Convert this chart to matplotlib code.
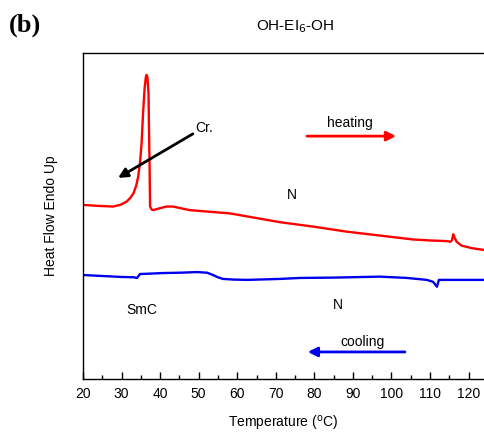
import matplotlib
matplotlib.use("Agg")
import matplotlib.pyplot as plt
import numpy as np

plt.rcParams['font.family'] = ['Liberation Sans', 'DejaVu Sans']

# Heating curve (red)
heat_T = [20.0, 24.0, 27.8, 29.6, 30.5, 31.3, 32.3, 33.1, 33.8, 34.3, 34.8, 35.2, 35.6,
          36.0, 36.3, 36.5, 36.7, 37.0, 37.1, 37.25, 37.4, 37.8, 38.2, 40.0, 41.7,
          43.3, 47.7, 58.1, 71.1, 80.0, 88.4, 97.0, 105.6, 110.0, 114.3, 115.3, 115.7,
          116.0, 116.4, 116.9, 118.2, 121.0, 124.0]
heat_Y = [53.4, 53.1, 52.9, 53.4, 53.9, 54.4, 55.6, 57.0, 59.3, 62.0, 66.5, 72.4, 82.0,
          89.5, 92.6, 93.3, 92.6, 87.6, 78.0, 67.0, 52.9, 52.0, 51.8, 52.4, 52.9,
          52.9, 51.8, 50.8, 48.1, 46.7, 45.2, 44.0, 42.8, 42.5, 42.3, 42.1, 42.6,
          44.4, 43.3, 42.1, 40.9, 40.1, 39.6]

# Cooling curve (blue)
cool_T = [20.0, 25.0, 30.0, 33.2, 34.0, 34.8, 37.0, 40.7, 45.0, 49.6, 52.2, 53.7,
          55.0, 56.3, 59.0, 62.5, 71.1, 76.3, 85.0, 97.0, 104.0, 109.2, 110.8, 111.8,
          112.3, 115.0, 124.0]
cool_Y = [31.9, 31.6, 31.3, 31.2, 31.0, 32.2, 32.3, 32.5, 32.6, 32.8, 32.6, 31.9,
          31.2, 30.7, 30.5, 30.4, 30.7, 31.0, 31.1, 31.4, 31.0, 30.4, 29.8, 28.3,
          30.4, 30.4, 30.4]

xticks = [20, 30, 40, 50, 60, 70, 80, 90, 100, 110, 120]

fig = plt.figure(figsize=(4.84, 4.32), dpi=100)
ax = fig.add_axes([83/484, 1-379/432, 1-83/484, (379-53)/432])

ax.plot(heat_T, heat_Y, color='#ff0000', lw=1.7, solid_joinstyle='round')
ax.plot(cool_T, cool_Y, color='#0000ee', lw=1.7, solid_joinstyle='round')

ax.set_xlim(20, 124)
ax.set_ylim(0, 100)
ax.set_xticks(xticks)
ax.set_xticks(np.arange(25, 124, 10), minor=True)
ax.tick_params(axis='x', which='major', direction='in', length=5, width=1, labelsize=10, pad=6)
ax.tick_params(axis='x', which='minor', direction='in', length=3, width=1)
ax.set_yticks([])
ax.spines['right'].set_visible(False)
for s in ['left', 'bottom', 'top']:
    ax.spines[s].set_linewidth(1)

ax.set_xlabel('Temperature ($^{\\mathrm{o}}$C)', fontsize=10, labelpad=9)
ax.set_ylabel('Heat Flow Endo Up', fontsize=10, labelpad=18)

fig.text(9/484, 1-25/432, '(b)', fontsize=19, fontweight='bold', family='Liberation Serif', va='center', ha='left')
fig.text(295/484, 1-27/432, 'OH-EI$_6$-OH', fontsize=11, va='center', ha='center')

ax.annotate('', xy=(29.1, 61.7), xytext=(48.5, 75.2),
            arrowprops=dict(arrowstyle='-|>', color='black', lw=2, mutation_scale=14,
                            shrinkA=0, shrinkB=0))
ax.text(49.0, 77.0, 'Cr.', fontsize=10, va='center', ha='left')

ax.text(89.2, 78.5, 'heating', fontsize=10, ha='center', va='center')
ax.annotate('', xy=(101.2, 74.5), xytext=(78.1, 74.5),
            arrowprops=dict(arrowstyle='-|>', color='#ff0000', lw=2, mutation_scale=14,
                            shrinkA=0, shrinkB=0))

ax.text(74.2, 56.4, 'N', fontsize=10, ha='center', va='center')
ax.text(86.1, 22.7, 'N', fontsize=10, ha='center', va='center')
ax.text(35.3, 21.2, 'SmC', fontsize=10, ha='center', va='center')

ax.text(92.6, 11.3, 'cooling', fontsize=10, ha='center', va='center')
ax.annotate('', xy=(78.3, 8.3), xytext=(103.5, 8.3),
            arrowprops=dict(arrowstyle='-|>', color='#0000ee', lw=2, mutation_scale=14,
                            shrinkA=0, shrinkB=0))

fig.savefig('out.png', dpi=100)
